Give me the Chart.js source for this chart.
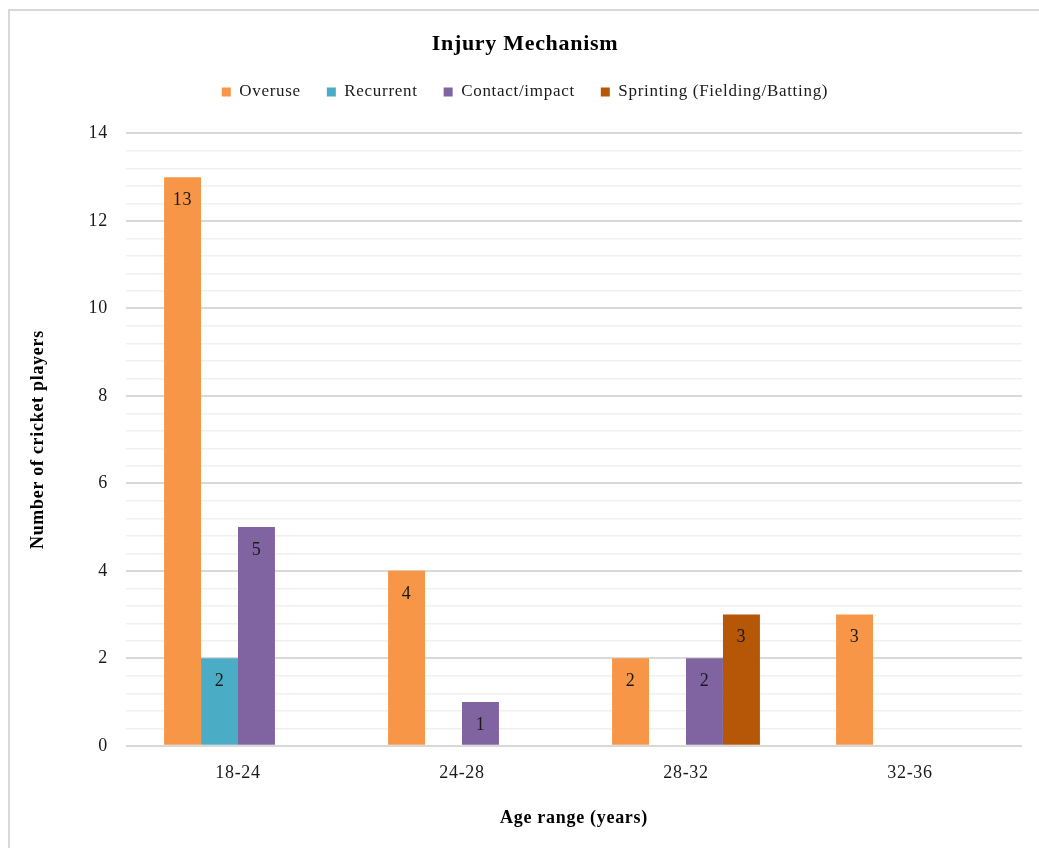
<!DOCTYPE html>
<html>
<head>
<meta charset="utf-8">
<title>Injury Mechanism</title>
<script src="https://cdn.jsdelivr.net/npm/chart.js@4.4.1/dist/chart.umd.min.js"></script>
<style>
  html, body { margin: 0; padding: 0; background: #ffffff; }
  #wrap { position: relative; width: 1039px; height: 848px; }
  #frame {
    position: absolute; left: 8px; top: 9px; right: 0; bottom: 0;
    border-top: 2px solid #d9d9d9; border-left: 2px solid #d9d9d9;
    pointer-events: none;
  }
  canvas { position: absolute; left: 0; top: 0; }
</style>
</head>
<body>
<div id="wrap">
  <canvas id="chart" width="1039" height="848"></canvas>
  <div id="frame"></div>
</div>
<script>
// Age groups on the x axis
const categories = ['18-24', '24-28', '28-32', '32-36'];

// Number of players per injury mechanism (null = no bar)
const overuse   = [13, 4, 2, 3];
const recurrent = [2, null, null, null];
const contact   = [5, 1, 2, null];
const sprinting = [null, null, 3, null];

const seriesNames = ['Overuse', 'Recurrent', 'Contact/impact', 'Sprinting (Fielding/Batting)'];
const seriesColors = ['#F79646', '#4BACC6', '#8064A2', '#B65708'];

// y axis range, label spacing and minor grid spacing
const yMin = 0, yMax = 14, yMajorStep = 2, yMinorStep = 0.4;

const SERIF = '"Liberation Serif", "Times New Roman", serif';
const LETTER_SPACING = '0.7px';

const isMajor = v => Math.abs(v / yMajorStep - Math.round(v / yMajorStep)) < 1e-6;

// Slightly wider letter spacing for all canvas text (measured and drawn)
const spacing = {
  id: 'spacing',
  beforeUpdate(chart) { chart.ctx.letterSpacing = LETTER_SPACING; },
  beforeDraw(chart) { chart.ctx.letterSpacing = LETTER_SPACING; }
};

// Extra gap between the legend row and the plot area
const legendGap = {
  id: 'legendGap',
  afterInit(chart) {
    const legend = chart.legend;
    if (!legend) return;
    const fit = legend.fit;
    legend.fit = function () {
      fit.call(this);
      this.height += 23;
    };
  }
};

// Writes each bar's value inside the top of the bar
const valueLabels = {
  id: 'valueLabels',
  afterDatasetsDraw(chart) {
    const ctx = chart.ctx;
    ctx.save();
    ctx.font = '18px ' + SERIF;
    ctx.fillStyle = '#1a1a1a';
    ctx.textAlign = 'center';
    ctx.textBaseline = 'middle';
    chart.data.datasets.forEach((ds, i) => {
      const meta = chart.getDatasetMeta(i);
      meta.data.forEach((bar, j) => {
        const v = ds.data[j];
        if (v === null || v === undefined) return;
        ctx.fillText(String(v), bar.x, bar.y + 23);
      });
    });
    ctx.restore();
  }
};

const seriesData = [overuse, recurrent, contact, sprinting];

new Chart(document.getElementById('chart'), {
  type: 'bar',
  data: {
    labels: categories,
    datasets: seriesData.map((d, i) => ({
      label: seriesNames[i],
      data: d,
      backgroundColor: seriesColors[i],
      borderWidth: 0,
      barPercentage: 1.0,
      categoryPercentage: 0.66
    }))
  },
  options: {
    responsive: false,
    animation: false,
    layout: { padding: { left: 28, right: 17, top: 0, bottom: 19 } },
    plugins: {
      title: {
        display: true,
        text: 'Injury Mechanism',
        color: '#000000',
        font: { family: SERIF, size: 22, weight: 'bold' },
        padding: { top: 31, bottom: 0 }
      },
      legend: {
        display: true,
        position: 'top',
        labels: {
          color: '#1a1a1a',
          font: { family: SERIF, size: 17 },
          boxWidth: 9,
          boxHeight: 9,
          padding: 26
        }
      },
      tooltip: { enabled: false }
    },
    scales: {
      x: {
        grid: { display: false, drawTicks: false },
        border: { display: false },
        ticks: {
          color: '#1a1a1a',
          font: { family: SERIF, size: 18 },
          padding: 17
        },
        title: {
          display: true,
          text: 'Age range (years)',
          color: '#000000',
          font: { family: SERIF, size: 18, weight: 'bold' },
          padding: { top: 6, bottom: 0 }
        }
      },
      y: {
        min: yMin,
        max: yMax,
        grid: {
          drawTicks: false,
          color: ctx => isMajor(ctx.tick.value) ? '#d9d9d9' : '#f0f0f0',
          lineWidth: ctx => isMajor(ctx.tick.value) ? 2 : 1.5
        },
        border: { display: false },
        ticks: {
          stepSize: yMinorStep,
          autoSkip: false,
          color: '#1a1a1a',
          font: { family: SERIF, size: 18 },
          padding: 18,
          callback: v => isMajor(v) ? String(Math.round(v)) : ''
        },
        title: {
          display: true,
          text: 'Number of cricket players',
          color: '#000000',
          font: { family: SERIF, size: 18, weight: 'bold' },
          padding: { top: 0, bottom: 21 }
        }
      }
    }
  },
  plugins: [spacing, legendGap, valueLabels]
});
</script>
</body>
</html>
